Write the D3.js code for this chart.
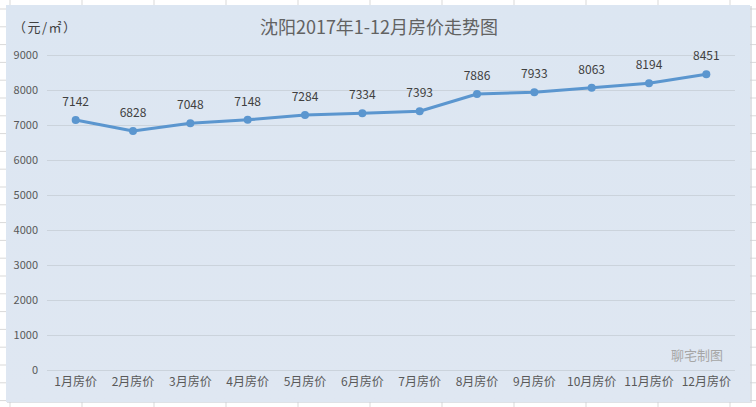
<!DOCTYPE html>
<html><head><meta charset="utf-8">
<script src="https://cdn.jsdelivr.net/npm/d3@7"></script>
<style>html,body{margin:0;padding:0;background:#fff;}svg{display:block;}</style>
</head><body>
<svg id="c" width="756" height="407"></svg>
<script>
const categories = ["1月房价","2月房价","3月房价","4月房价","5月房价","6月房价","7月房价","8月房价","9月房价","10月房价","11月房价","12月房价"];
const prices = [7142, 6828, 7048, 7148, 7284, 7334, 7393, 7886, 7933, 8063, 8194, 8451];
const yTicks = [0,1000,2000,3000,4000,5000,6000,7000,8000,9000];
const titleText = "沈阳2017年1-12月房价走势图";
const unitText = "（元/㎡）";
const watermark = "聊宅制图";

(function () {
const W = 756, H = 407;
const svg = d3.select("#c");
const font = "'Noto Sans CJK SC','Microsoft YaHei',sans-serif";

// spreadsheet background grid
const bg = svg.append("g");
for (let gx = 10; gx < W; gx += 72) bg.append("line").attr("x1", gx).attr("x2", gx).attr("y1", 0).attr("y2", H).attr("stroke", "#d9d9d9");
for (let gy = 9; gy < H; gy += 17.8) bg.append("line").attr("x1", 0).attr("x2", W).attr("y1", gy).attr("y2", gy).attr("stroke", "#d9d9d9");

// chart area
const defs = svg.append("defs");
const grad = defs.append("linearGradient").attr("id", "bgGrad").attr("x1", 0).attr("y1", 0).attr("x2", 0).attr("y2", 1);
grad.append("stop").attr("offset", "0%").attr("stop-color", "#dce6f2");
grad.append("stop").attr("offset", "100%").attr("stop-color", "#dfe7f2");
svg.append("rect").attr("x", 7).attr("y", 6).attr("width", 745).attr("height", 397).attr("fill", "#c9cfd6").attr("opacity", 0.6);
svg.append("rect").attr("x", 6).attr("y", 5).attr("width", 744).attr("height", 397).attr("fill", "url(#bgGrad)");

const pLeft = 47, pRight = 735, pTop = 55, pBottom = 370;
const x = d3.scaleBand().domain(categories).range([pLeft, pRight]);
const y = d3.scaleLinear().domain([0, 9000]).range([pBottom, pTop]);

// gridlines
svg.append("g").selectAll("line").data(yTicks).join("line")
  .attr("x1", pLeft).attr("x2", pRight)
  .attr("y1", d => y(d) + 0.5).attr("y2", d => y(d) + 0.5)
  .attr("stroke", "#cbd3dc").attr("stroke-width", 1);

// y axis labels
const yAxis = d3.axisLeft(y).tickValues(yTicks).tickSize(0).tickPadding(0).tickFormat(d3.format("d"));
const ya = svg.append("g").attr("transform", `translate(38,0)`).call(yAxis);
ya.select(".domain").remove();
ya.selectAll("text").attr("font-family", font).attr("font-size", 11).attr("fill", "#595959");

// x axis labels
const xAxis = d3.axisBottom(x).tickSize(0).tickPadding(0);
const xa = svg.append("g").attr("transform", `translate(0,377)`).call(xAxis);
xa.select(".domain").remove();
xa.selectAll("text").attr("font-family", font).attr("font-size", 12).attr("fill", "#595959");

// line
const cx = d => x(d) + x.bandwidth() / 2;
const line = d3.line().x((d, i) => cx(categories[i])).y(d => y(d));
svg.append("path").datum(prices).attr("d", line)
  .attr("fill", "none").attr("stroke", "#5b96cf").attr("stroke-width", 3).attr("stroke-linejoin", "round");
svg.append("g").selectAll("circle").data(prices).join("circle")
  .attr("cx", (d, i) => cx(categories[i])).attr("cy", d => y(d)).attr("r", 4)
  .attr("fill", "#5b96cf");

// data labels
svg.append("g").selectAll("text").data(prices).join("text")
  .attr("x", (d, i) => cx(categories[i])).attr("y", d => y(d) - 14)
  .attr("text-anchor", "middle").attr("font-family", font).attr("font-size", 12).attr("fill", "#404040")
  .text(d => d);

// title
svg.append("text").attr("x", 379).attr("y", 34).attr("text-anchor", "middle")
  .attr("font-family", font).attr("font-size", 18).attr("fill", "#626262").text(titleText);

// unit
svg.append("text").attr("x", 13).attr("y", 32)
  .attr("font-family", font).attr("font-size", 13).attr("letter-spacing", 1.5).attr("fill", "#404040").text(unitText);

// watermark
svg.append("text").attr("x", 723).attr("y", 360).attr("text-anchor", "end")
  .attr("font-family", font).attr("font-size", 13).attr("fill", "#a6a6a6").text(watermark);
})();
</script>
</body></html>
